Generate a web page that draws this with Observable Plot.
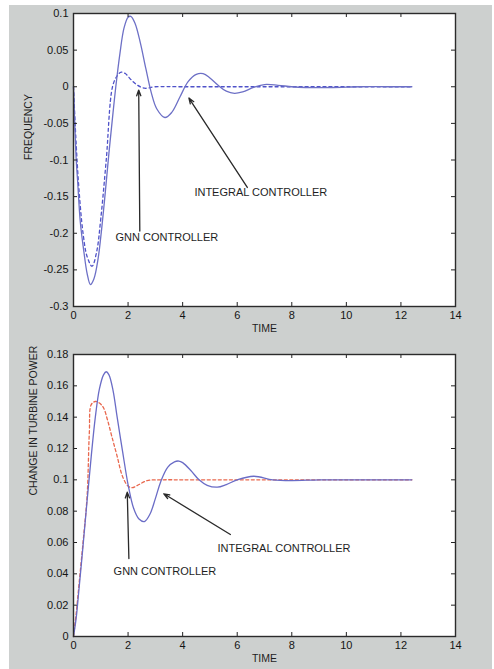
<!DOCTYPE html>
<html>
<head>
<meta charset="utf-8">
<script src="https://cdn.jsdelivr.net/npm/d3@7"></script>
<script src="https://cdn.jsdelivr.net/npm/@observablehq/plot@0.6"></script>
<style>
  body { margin: 0; background: #fff; }
  #page { position: relative; width: 494px; height: 669px; overflow: hidden; }
  #panel { position: absolute; left: 9px; top: 5px; width: 483px; height: 664px; background: #cdd0cf; }
  .chart { position: absolute; left: 0; }
</style>
</head>
<body>
<div id="page">
  <div id="panel"></div>
  <div id="top" class="chart" style="top:0px"></div>
  <div id="bottom" class="chart" style="top:340px"></div>
</div>
<script>
// Time axis shared by both panels
const xTicks = [0, 2, 4, 6, 8, 10, 12, 14];

// Frequency deviation – integral controller
const freqIntT = [0, 0.05, 0.1, 0.15, 0.25, 0.38, 0.5, 0.62, 0.75, 0.9, 1.0, 1.15, 1.3, 1.45, 1.55, 1.7, 1.85, 2.0, 2.1, 2.25, 2.45, 2.65, 2.85, 3.05, 3.35, 3.6, 3.9, 4.2, 4.5, 4.75, 5.0, 5.3, 5.6, 5.9, 6.2, 6.6, 7.0, 7.5, 8.0, 8.5, 9.5, 10.5, 11.5, 12.4];
const freqIntY = [0, -0.055, -0.1, -0.128, -0.185, -0.225, -0.255, -0.27, -0.262, -0.235, -0.205, -0.15, -0.09, -0.035, 0.0, 0.045, 0.08, 0.095, 0.096, 0.087, 0.06, 0.025, -0.008, -0.03, -0.042, -0.035, -0.014, 0.007, 0.017, 0.018, 0.012, 0.002, -0.006, -0.009, -0.007, -0.001, 0.003, 0.002, 0, -0.001, -0.001, 0, 0, 0];

// Frequency deviation – GNN controller
const freqGnnT = [0, 0.1, 0.2, 0.35, 0.5, 0.68, 0.85, 1.0, 1.2, 1.43, 1.6, 1.75, 1.9, 2.1, 2.35, 2.6, 3.0, 4, 6, 8, 10, 12.4];
const freqGnnY = [0, -0.08, -0.14, -0.2, -0.232, -0.245, -0.225, -0.18, -0.1, 0, 0.015, 0.02, 0.018, 0.01, 0.002, -0.002, 0, 0, 0, 0, 0, 0];

// Change in turbine power – integral controller
const powIntT = [0, 0.1, 0.2, 0.35, 0.5, 0.65, 0.8, 0.95, 1.1, 1.2, 1.3, 1.45, 1.6, 1.8, 2.0, 2.2, 2.4, 2.6, 2.8, 3.0, 3.2, 3.45, 3.7, 3.86, 4.0, 4.3, 4.6, 4.9, 5.27, 5.6, 6.0, 6.6, 7.3, 8, 9, 10, 11, 12.4];
const powIntY = [0, 0.012, 0.03, 0.058, 0.087, 0.115, 0.14, 0.158, 0.167, 0.169, 0.167, 0.157, 0.14, 0.118, 0.097, 0.082, 0.075, 0.0734, 0.078, 0.088, 0.099, 0.108, 0.1115, 0.112, 0.111, 0.106, 0.1, 0.0965, 0.0953, 0.097, 0.1, 0.1023, 0.1, 0.0995, 0.1, 0.1, 0.1, 0.1];

// Change in turbine power – GNN controller
const powGnnT = [0, 0.1, 0.2, 0.35, 0.5, 0.58, 0.65, 0.8, 0.95, 1.1, 1.25, 1.4, 1.6, 1.8, 2.0, 2.15, 2.4, 2.7, 3.2, 4, 6, 8, 10, 12.4];
const powGnnY = [0, 0.015, 0.033, 0.06, 0.09, 0.13, 0.148, 0.15, 0.149, 0.146, 0.138, 0.128, 0.115, 0.102, 0.096, 0.095, 0.097, 0.0995, 0.1, 0.1, 0.1, 0.1, 0.1, 0.1];

// Y tick values and their printed labels
const freqTicks = [-0.3, -0.25, -0.2, -0.15, -0.1, -0.05, 0, 0.05, 0.1];
const freqTickLabels = ["-0.3", "-0.25", "-0.2", "-0.15", "-0.1", "-0.05", "0", "0.05", "0.1"];
const powTicks = [0, 0.02, 0.04, 0.06, 0.08, 0.1, 0.12, 0.14, 0.16, 0.18];
const powTickLabels = ["0", "0.02", "0.04", "0.06", "0.08", "0.1", "0.12", "0.14", "0.16", "0.18"];

// Annotation arrows (tail -> head) and labels, in data units
const freqArrows = [
  {x1: 2.43, y1: -0.197, x2: 2.39, y2: -0.0045},
  {x1: 6.37, y1: -0.1375, x2: 4.23, y2: -0.0154}
];
const freqNotes = [
  {x: 1.54, y: -0.206, text: "GNN CONTROLLER"},
  {x: 4.43, y: -0.1447, text: "INTEGRAL CONTROLLER"}
];
const powArrows = [
  {x1: 2.03, y1: 0.0498, x2: 1.97, y2: 0.0921},
  {x1: 5.75, y1: 0.0651, x2: 3.31, y2: 0.0911}
];
const powNotes = [
  {x: 1.47, y: 0.0415, text: "GNN CONTROLLER"},
  {x: 5.28, y: 0.0562, text: "INTEGRAL CONTROLLER"}
];

const zip = (ts, ys) => ts.map((t, i) => ({t, v: ys[i]}));
const FONT = "Liberation Sans, Arial, Helvetica, sans-serif";
const W = 494, ML = 73, MR = 39;

function panel({height, marginTop, marginBottom, yDomain, yTicks, yLabels, solid, dashed, solidColor, dashColor, dashArray, yTitle, titleDy, arrows, notes}) {
  const plotH = height - marginTop - marginBottom;
  const plotW = W - ML - MR;
  const line = {x: "t", y: "v", curve: "catmull-rom", strokeWidth: 1.3};
  return Plot.plot({
    width: W, height,
    marginLeft: ML, marginRight: MR, marginTop, marginBottom,
    style: {background: "transparent", fontFamily: FONT, fontSize: "11px", color: "#151515", overflow: "visible"},
    x: {domain: [0, 14], ticks: xTicks, tickSize: 0, tickPadding: 5, tickFormat: d => String(d), label: null},
    y: {domain: yDomain, ticks: yTicks, tickSize: 0, tickPadding: 5, tickFormat: d => yLabels[yTicks.indexOf(d)], label: null},
    marks: [
      Plot.frame({fill: "white", stroke: "none"}),
      Plot.line(dashed, {...line, stroke: dashColor, strokeDasharray: dashArray}),
      Plot.line(solid, {...line, stroke: solidColor}),
      Plot.arrow(arrows, {x1: "x1", y1: "y1", x2: "x2", y2: "y2", stroke: "#2a2a2a", strokeWidth: 1.3, headLength: 7, headAngle: 40}),
      Plot.text(notes, {x: "x", y: "y", text: "text", textAnchor: "start", fill: "#1e1e1e", fontSize: 11}),
      // inward tick marks on all four sides
      Plot.tickX(xTicks, {x: d => d, insetTop: plotH - 4, stroke: "#222"}),
      Plot.tickX(xTicks, {x: d => d, insetBottom: plotH - 4, stroke: "#222"}),
      Plot.tickY(yTicks, {y: d => d, insetRight: plotW - 4, stroke: "#222"}),
      Plot.tickY(yTicks, {y: d => d, insetLeft: plotW - 4, stroke: "#222"}),
      Plot.frame({stroke: "#2b2b2b", strokeWidth: 1.4}),
      Plot.text([yTitle], {frameAnchor: "left", dx: titleDy, rotate: -90, fontSize: 10.5, fill: "#1e1e1e"}),
      Plot.text(["TIME"], {frameAnchor: "bottom", dy: 25, fontSize: 10.5, fill: "#1e1e1e"})
    ]
  });
}

document.getElementById("top").append(panel({
  height: 340, marginTop: 13, marginBottom: 34,
  yDomain: [-0.3, 0.1], yTicks: freqTicks, yLabels: freqTickLabels,
  solid: zip(freqIntT, freqIntY), dashed: zip(freqGnnT, freqGnnY),
  solidColor: "#6d70c6", dashColor: "#4f52c9", dashArray: "3,3",
  yTitle: "FREQUENCY", titleDy: -45,
  arrows: freqArrows, notes: freqNotes
}));

document.getElementById("bottom").append(panel({
  height: 329, marginTop: 14, marginBottom: 33,
  yDomain: [0, 0.18], yTicks: powTicks, yLabels: powTickLabels,
  solid: zip(powIntT, powIntY), dashed: zip(powGnnT, powGnnY),
  solidColor: "#6a6cc6", dashColor: "#e9684e", dashArray: "3,2.5",
  yTitle: "CHANGE IN TURBINE POWER", titleDy: -40,
  arrows: powArrows, notes: powNotes
}));
</script>
</body>
</html>
